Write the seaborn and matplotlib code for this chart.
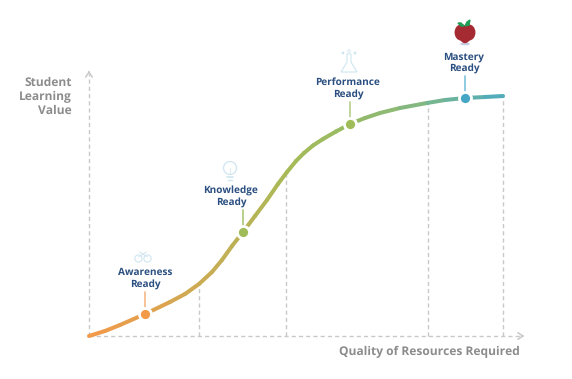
import matplotlib
matplotlib.use("Agg")
import matplotlib.pyplot as plt
from matplotlib.colors import LinearSegmentedColormap
from matplotlib.patches import Ellipse, Circle, Polygon
import seaborn as sns
import pandas as pd

sns.set_theme(style="white")
plt.rcParams["font.family"] = ["Open Sans", "DejaVu Sans"]
plt.rcParams["text.hinting"] = "none"
plt.rcParams["text.hinting_factor"] = 1

# Curve values (quality, learning value)
quality = [0, 16, 31, 56, 81, 96, 110, 123, 133, 143, 154, 166, 178, 189, 198, 207,
           215, 224, 234, 247, 261, 276, 291, 311, 338, 356, 376, 396, 414]
value = [0, 5, 11, 22, 34, 42, 52, 64, 76, 90, 104, 120, 136, 152, 164, 175,
         183, 190.5, 197, 204.5, 212, 218, 223, 228, 233, 236, 238, 239, 240]

stage_names = ["Awareness\nReady", "Knowledge\nReady", "Performance\nReady", "Mastery\nReady"]
stage_x = [56, 154, 261, 376]
stage_y = [22, 104, 212, 238]
label_x = [56, 142, 259, 375]
stage_colors = ["#f29a48", "#9fbc58", "#9fbc58", "#46a6c6"]
stem_colors = ["#f6b886", "#a9c775", "#b6d08c", "#7cc2da"]
drop_x = [110, 197, 339, 414]
drop_y = [50, 163, 232, 240]
x_label = "Quality of Resources Required"
y_label = "Student\nLearning\nValue"

TEXT_BLUE = "#2b4f80"
AXIS_GRAY = "#c9c9c9"
LABEL_GRAY = "#8c8c8c"
ICON_BLUE = "#cfe6f0"

df = pd.DataFrame({"quality": quality, "value": value})
gradient = LinearSegmentedColormap.from_list(
    "curve", [(0, "#f19a4a"), (0.28, "#c8ad55"), (0.5, "#a3bb58"),
              (0.7, "#8fba72"), (0.85, "#6fb49a"), (1, "#48a9c6")])

fig = plt.figure(figsize=(5.72, 3.79), dpi=100)
ax = fig.add_axes([0, 0, 1, 1])
ax.set_xlim(-89, 483)
ax.set_ylim(-43, 336)
ax.axis("off")
dash = dict(color=AXIS_GRAY, lw=1.0, linestyle=(0, (3, 2.2)), estimator=None, sort=False, zorder=1)

# axes
sns.lineplot(x=[0, 432], y=[0, 0], ax=ax, **dash)
sns.lineplot(x=[0, 0], y=[0, 262], ax=ax, **dash)
ax.annotate("", xy=(438, 0), xytext=(430, 0),
            arrowprops=dict(arrowstyle="->,head_length=0.3,head_width=0.2", color=AXIS_GRAY, lw=1.1))
ax.annotate("", xy=(0, 268), xytext=(0, 260),
            arrowprops=dict(arrowstyle="->,head_length=0.3,head_width=0.2", color=AXIS_GRAY, lw=1.1))

# drop lines
for dx, dy in zip(drop_x, drop_y):
    sns.lineplot(x=[dx, dx], y=[0, dy], ax=ax, **dash)

# gradient curve
for i in range(len(df) - 1):
    seg = df.iloc[i:i + 2]
    sns.lineplot(data=seg, x="quality", y="value", ax=ax, lw=2.9,
                 color=gradient(df["quality"].iloc[i] / df["quality"].max()),
                 solid_capstyle="round", zorder=3, errorbar=None, estimator=None, sort=False)

# stages
for name, sx, sy, lx, col, stem in zip(stage_names, stage_x, stage_y, label_x, stage_colors, stem_colors):
    sns.lineplot(x=[sx, sx], y=[sy + 5, sy + 22], ax=ax, color=stem, lw=1.2, zorder=2,
                 estimator=None, sort=False)
    sns.scatterplot(x=[sx], y=[sy], ax=ax, s=75, color=col, edgecolor="white", linewidth=2, zorder=5)
    ax.text(lx, sy + 24, name, ha="center", va="bottom", fontsize=7.0, fontweight="bold",
            color=TEXT_BLUE, linespacing=1.3)

ax.text(-17, 239, y_label, ha="right", va="center", fontsize=8.3, fontweight="bold",
        color=LABEL_GRAY, linespacing=1.2)
ax.text(431, -16, x_label, ha="right", va="center", fontsize=8.3, fontweight="bold", color=LABEL_GRAY)

# icons: glasses
ax.add_patch(Circle((49.5, 77.5), 3.6, fill=False, ec=ICON_BLUE, lw=0.8))
ax.add_patch(Circle((58.5, 77.5), 3.6, fill=False, ec=ICON_BLUE, lw=0.8))
ax.plot([50.5, 58.5], [84, 79], color=ICON_BLUE, lw=0.7)
ax.plot([57.5, 49.5], [84, 79], color=ICON_BLUE, lw=0.7)
# icons: bulb
ax.add_patch(Circle((141, 168), 6.5, fill=False, ec=ICON_BLUE, lw=0.9))
ax.plot([138, 144], [159, 159], color=ICON_BLUE, lw=1.2)
ax.plot([139, 143], [156.5, 156.5], color=ICON_BLUE, lw=1.0)
ax.plot([141, 141], [162, 168], color=ICON_BLUE, lw=0.6)
# icons: flask
ax.add_patch(Polygon([(258, 282), (262, 282), (262, 274), (268, 264), (252, 264), (258, 274)],
                     fill=False, ec=ICON_BLUE, lw=0.8))
ax.add_patch(Circle((260, 285), 1.3, fill=False, ec=ICON_BLUE, lw=0.6))
ax.add_patch(Circle((254, 283), 0.7, color=ICON_BLUE))
ax.add_patch(Circle((266, 283), 0.7, color=ICON_BLUE))
# icons: apple
ax.add_patch(Ellipse((372.5, 303.5), 12.5, 15, color="#a52a32", zorder=4))
ax.add_patch(Ellipse((379.5, 303.5), 12.5, 15, color="#a52a32", zorder=4))
ax.add_patch(Ellipse((376, 299), 9, 11, color="#a52a32", zorder=4))
ax.add_patch(Ellipse((376, 292), 8, 1.2, color="#c5cde0", zorder=3))
ax.add_patch(Polygon([(376, 310), (378, 314), (381, 316), (380, 311)], color="#1f9d55", zorder=5))
ax.add_patch(Polygon([(375, 310), (372, 313), (369, 313), (372, 310)], color="#1f9d55", zorder=5))

fig.savefig("out.png", dpi=100, facecolor="white")
